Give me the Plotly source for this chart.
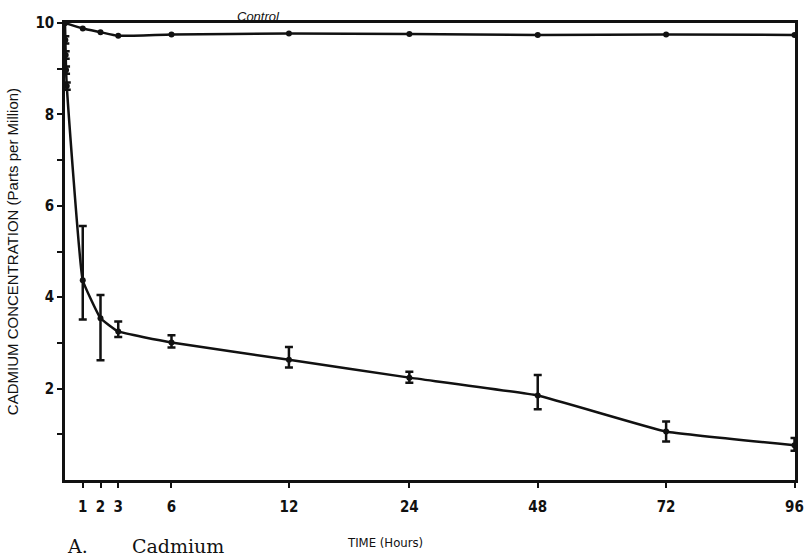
import numpy as np
import plotly.graph_objects as go

# Sampling times (hours) and cadmium concentration (ppm)
cd_hours = [0, 0.02, 0.04, 0.06, 0.1, 1, 2, 3, 6, 12, 24, 48, 72, 96]
cd_ppm = [10.0, 9.63, 9.30, 8.97, 8.62, 4.37, 3.54, 3.25, 3.01, 2.63, 2.24, 1.85, 1.06, 0.76]
cd_err_plus = [0, 0.08, 0.08, 0.08, 0.08, 1.19, 0.51, 0.22, 0.16, 0.28, 0.13, 0.45, 0.22, 0.16]
cd_err_minus = [0, 0.08, 0.08, 0.08, 0.08, 0.86, 0.92, 0.12, 0.11, 0.17, 0.11, 0.30, 0.22, 0.12]

# Control (no treatment)
ctrl_hours = [0, 1, 2, 3, 6, 12, 24, 48, 72, 96]
ctrl_ppm = [10.0, 9.88, 9.80, 9.72, 9.75, 9.77, 9.76, 9.74, 9.75, 9.74]

# Axis labelling
x_tick_hours = [1, 2, 3, 6, 12, 24, 48, 72, 96]
y_tick_vals = list(range(1, 11))
y_tick_text = [str(v) if v % 2 == 0 else "" for v in y_tick_vals]

# Broken (piecewise-linear) time scale: early hours are stretched
TIME_KNOTS_H = [0, 6, 12, 24, 96]
TIME_KNOTS_POS = [0, 107, 225, 346, 733]


def time_pos(h):
    return np.interp(np.asarray(h, dtype=float), TIME_KNOTS_H, TIME_KNOTS_POS)


INK = "#111111"
LEFT, RIGHT, TOP, BOTTOM = 65, 11, 23, 79
PLOT_W = 806 - LEFT - RIGHT

fig = go.Figure()

fig.add_trace(go.Scatter(
    x=time_pos(ctrl_hours), y=ctrl_ppm,
    mode="lines+markers",
    line=dict(color=INK, width=2.5, shape="spline", smoothing=0.4),
    marker=dict(color=INK, size=6),
    showlegend=False, hoverinfo="skip", cliponaxis=False,
))

fig.add_trace(go.Scatter(
    x=time_pos(cd_hours), y=cd_ppm,
    mode="lines+markers",
    line=dict(color=INK, width=2.5, shape="spline", smoothing=0.3),
    marker=dict(color=INK, size=6),
    error_y=dict(type="data", symmetric=False, array=cd_err_plus,
                 arrayminus=cd_err_minus, color=INK, thickness=2.5, width=4),
    showlegend=False, hoverinfo="skip", cliponaxis=False,
))

tick_font = dict(family="DejaVu Sans Condensed, DejaVu Sans, Liberation Sans",
                 size=15, color=INK, weight="bold")

fig.update_xaxes(
    range=[0, TIME_KNOTS_POS[-1] + 0.5],
    tickvals=time_pos(x_tick_hours), ticktext=[str(h) for h in x_tick_hours],
    ticks="outside", ticklen=5, tickwidth=2, tickcolor=INK,
    showline=True, linecolor=INK, linewidth=2.5, mirror=True,
    showgrid=False, zeroline=False, automargin=False,
    tickfont=tick_font, ticklabelstandoff=6, ticklabeloverflow="allow",
)
fig.update_yaxes(
    range=[0, 10],
    tickvals=y_tick_vals, ticktext=y_tick_text,
    ticks="outside", ticklen=5, tickwidth=2, tickcolor=INK,
    showline=True, linecolor=INK, linewidth=2.5, mirror=True,
    showgrid=False, zeroline=False, automargin=False,
    tickfont=tick_font,
    title=dict(text="CADMIUM CONCENTRATION (Parts per Million)",
               font=dict(family="Liberation Sans, Arial", size=15, color=INK),
               standoff=14),
)

fig.add_annotation(
    text="<i>Control</i>", xref="paper", yref="paper", x=(258 - LEFT) / PLOT_W, y=1.0,
    xanchor="center", yanchor="bottom", showarrow=False, yshift=-3,
    font=dict(family="Liberation Sans, Arial", size=13, color=INK),
)
fig.add_annotation(
    text="TIME (Hours)", xref="paper", yref="paper", x=(385 - LEFT) / PLOT_W, y=0,
    xanchor="center", yanchor="middle", yshift=-(542 - 480), showarrow=False,
    font=dict(family="DejaVu Sans Condensed, Liberation Sans", size=13, color=INK),
)
fig.add_annotation(
    text="A.", xref="paper", yref="paper", x=(65 - LEFT) / PLOT_W, y=0,
    xanchor="left", yanchor="middle", yshift=-(546 - 480), showarrow=False,
    font=dict(family="DejaVu Serif, Liberation Serif", size=19, color=INK),
)
fig.add_annotation(
    text="Cadmium", xref="paper", yref="paper", x=(130 - LEFT) / PLOT_W, y=0,
    xanchor="left", yanchor="middle", yshift=-(546 - 480), showarrow=False,
    font=dict(family="DejaVu Serif, Liberation Serif", size=19, color=INK),
)

fig.update_layout(
    width=806, height=559,
    margin=dict(l=LEFT, r=RIGHT, t=TOP, b=BOTTOM, autoexpand=False),
    paper_bgcolor="white", plot_bgcolor="white",
)

fig.write_html("out.html")
